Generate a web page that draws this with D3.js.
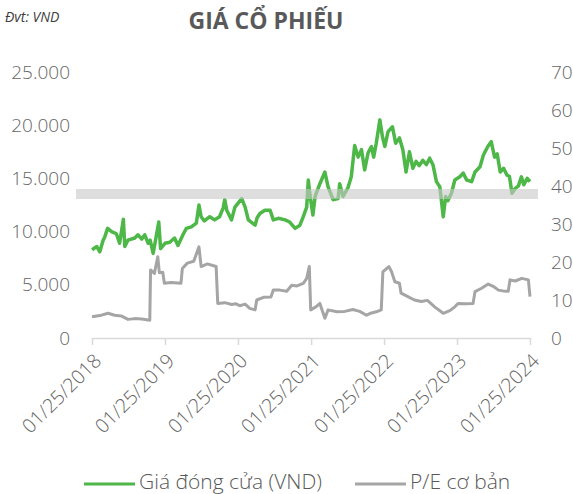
<!DOCTYPE html>
<html>
<head>
    <meta charset="utf-8">
    <title>Giá cổ phiếu</title>
    <script src="https://d3js.org/d3.v7.min.js"></script>
    <style>
        body { margin:0; background:white; }
        text { font-family:"Open Sans", sans-serif; fill:#666; }
        .tick-label { font-size:19px; font-weight:300; }
        .title { font-size:23px; font-weight:bold; fill:#595959; }
        .unit { font-size:14px; font-style:italic; fill:#404040; }
        .legend { font-size:21px; font-weight:300; fill:#595959; }
    </style>
</head>
<body>
<script>
// closing price (VND)
var priceDates = ["2018-01-25","2018-02-18","2018-03-05","2018-03-22","2018-03-30","2018-04-13","2018-05-03","2018-05-27","2018-06-12","2018-07-01","2018-07-08","2018-07-24","2018-08-27","2018-09-12","2018-10-01","2018-10-16","2018-11-02","2018-11-12","2018-11-27","2018-12-07","2018-12-25","2019-01-03","2019-01-25","2019-02-18","2019-03-14","2019-03-31","2019-04-25","2019-05-12","2019-06-06","2019-07-01","2019-07-14","2019-07-25","2019-08-10","2019-09-06","2019-09-30","2019-10-25","2019-11-12","2019-11-20","2019-11-30","2019-12-24","2020-01-10","2020-02-13","2020-03-01","2020-03-17","2020-04-20","2020-04-30","2020-05-14","2020-06-08","2020-07-04","2020-07-20","2020-08-14","2020-09-17","2020-10-10","2020-11-06","2020-11-30","2020-12-17","2021-01-03","2021-01-11","2021-01-19","2021-02-03","2021-02-14","2021-03-10","2021-04-04","2021-04-20","2021-05-15","2021-06-09","2021-06-17","2021-07-04","2021-07-28","2021-08-14","2021-08-31","2021-09-17","2021-10-04","2021-10-20","2021-11-06","2021-11-23","2021-12-04","2021-12-17","2022-01-04","2022-01-17","2022-01-29","2022-02-14","2022-03-08","2022-03-24","2022-04-12","2022-04-29","2022-05-15","2022-06-01","2022-06-18","2022-07-04","2022-07-20","2022-08-07","2022-08-25","2022-09-10","2022-09-27","2022-10-14","2022-10-31","2022-11-17","2022-11-29","2022-12-10","2022-12-28","2023-01-14","2023-02-08","2023-02-25","2023-03-14","2023-04-08","2023-04-25","2023-05-20","2023-06-06","2023-06-28","2023-07-15","2023-08-01","2023-08-14","2023-08-29","2023-09-15","2023-10-02","2023-10-14","2023-10-27","2023-11-12","2023-11-28","2023-12-13","2023-12-25","2024-01-11","2024-01-25"];
var priceValues = [8300,8600,8100,9200,9500,10300,10000,9800,8900,11150,8600,9200,9400,9700,9300,9700,8900,9200,7960,9000,10900,8400,8900,9000,9400,8700,9700,10300,10450,10800,12500,11400,11000,11400,11100,11400,12200,13000,12000,11100,12300,13100,12300,11100,10600,11300,11700,12000,12000,11100,11250,11100,10900,10300,10600,11400,12300,14850,13500,11550,13300,14500,15600,14200,13000,13100,14500,13300,14100,15150,18100,17000,17700,15800,17400,18000,17000,18300,20500,18900,18000,19400,19850,18300,18800,17700,15600,17500,15950,16600,16200,16700,16300,16900,16250,14700,14200,11400,13300,12900,13600,14850,15150,15500,14850,14700,15600,16100,17200,18000,18450,17000,17300,15600,15950,15300,15200,13600,14050,14300,15150,14400,15000,14700];

// basic P/E
var peDates = ["2018-01-25","2018-03-05","2018-04-15","2018-05-18","2018-06-20","2018-07-24","2018-08-27","2018-10-01","2018-11-10","2018-11-14","2018-12-03","2018-12-20","2018-12-28","2019-01-14","2019-01-22","2019-02-25","2019-04-15","2019-04-22","2019-05-17","2019-06-18","2019-07-14","2019-07-25","2019-08-25","2019-10-08","2019-10-16","2019-11-20","2019-12-25","2020-01-15","2020-02-03","2020-03-01","2020-03-24","2020-04-20","2020-04-28","2020-06-01","2020-07-08","2020-07-20","2020-08-22","2020-09-25","2020-10-20","2020-11-15","2020-12-17","2021-01-03","2021-01-16","2021-01-23","2021-02-18","2021-03-10","2021-03-20","2021-04-04","2021-04-20","2021-06-03","2021-07-12","2021-08-22","2021-09-25","2021-10-29","2021-11-23","2021-12-17","2022-01-11","2022-01-19","2022-02-18","2022-03-03","2022-03-20","2022-04-12","2022-04-20","2022-05-24","2022-06-26","2022-07-30","2022-08-30","2022-10-05","2022-11-17","2022-12-20","2023-01-14","2023-01-30","2023-03-10","2023-04-15","2023-04-25","2023-05-28","2023-06-30","2023-07-25","2023-08-20","2023-09-12","2023-10-08","2023-10-17","2023-11-12","2023-12-15","2024-01-17","2024-01-25"];
var peValues = [5.6,5.9,6.5,6.0,5.8,4.9,5.1,5.0,4.7,17.9,17.0,21.4,17.2,17.3,14.4,14.6,14.4,18.3,19.7,20.2,24.0,18.8,19.5,18.8,9.1,9.3,8.8,9.0,8.5,8.9,7.8,7.4,10.0,10.7,10.8,12.6,12.6,12.3,13.9,13.7,14.4,15.7,18.8,7.4,8.2,9.1,7.5,5.2,7.4,6.9,7.0,7.5,7.0,6.0,6.6,6.9,7.4,17.4,18.8,17.5,14.8,14.4,11.8,10.9,10.0,9.6,9.9,8.2,6.5,7.2,8.2,9.1,9.0,9.1,12.2,13.1,14.2,13.6,12.6,12.4,12.3,15.3,15.0,15.7,15.3,10.9];

var xTickDates = ["2018-01-25","2019-01-25","2020-01-25","2021-01-25","2022-01-25","2023-01-25","2024-01-25"];
var leftTicks = [0,5000,10000,15000,20000,25000];
var rightTicks = [0,10,20,30,40,50,60,70];
var seriesNames = ["Giá đóng cửa (VND)", "P/E cơ bản"];

var parse = d3.timeParse("%Y-%m-%d");
var price = priceDates.map(function(d,i){ return {date:parse(d), v:priceValues[i]}; });
var pe = peDates.map(function(d,i){ return {date:parse(d), v:peValues[i]}; });

var svg = d3.select("body").append("svg").attr("width",573).attr("height",494);

var x = d3.scaleTime().domain([parse(xTickDates[0]), parse(xTickDates[6])]).range([92,530]);
var yL = d3.scaleLinear().domain([0,25000]).range([338,72]);
var yR = d3.scaleLinear().domain([0,70]).range([338,72]);

// title
svg.append("text").attr("class","unit").attr("x",5).attr("y",22).text("Đvt: VND");
svg.append("text").attr("class","title").attr("x",266).attr("y",29)
    .attr("text-anchor","middle").text("GIÁ CỔ PHIẾU");

// left axis labels
svg.append("g").selectAll("text").data(leftTicks).enter().append("text")
    .attr("class","tick-label")
    .attr("x",70).attr("y",function(d){return yL(d);})
    .attr("dy","0.35em").attr("text-anchor","end")
    .text(function(d){return d3.format(",")(d).replace(/,/g,".");});

// right axis labels
svg.append("g").selectAll("text").data(rightTicks).enter().append("text")
    .attr("class","tick-label")
    .attr("x",551).attr("y",function(d){return yR(d);})
    .attr("dy","0.35em").attr("text-anchor","start")
    .text(function(d){return d;});

// x axis
var xAxis = svg.append("g").attr("transform","translate(0,338)")
    .call(d3.axisBottom(x).tickValues(xTickDates.map(parse)).tickSize(7).tickSizeOuter(0)
        .tickFormat(d3.timeFormat("%m/%d/%Y")));
xAxis.select(".domain").attr("stroke","#d9d9d9").attr("stroke-width",1.5);
xAxis.selectAll(".tick line").attr("stroke","#d9d9d9").attr("stroke-width",1.5);
xAxis.selectAll(".tick text")
    .attr("class","tick-label")
    .attr("fill","#666")
    .style("font-size","19.5px")
    .attr("text-anchor","end")
    .attr("dx","0").attr("dy","0")
    .attr("transform","translate(3,17) rotate(-45)");

// lines
var lineL = d3.line().x(function(d){return x(d.date);}).y(function(d){return yL(d.v);});
var lineR = d3.line().x(function(d){return x(d.date);}).y(function(d){return yR(d.v);});

svg.append("path").datum(pe).attr("d",lineR)
    .attr("fill","none").attr("stroke","#a5a5a5").attr("stroke-width",3).attr("stroke-linejoin","round");
svg.append("path").datum(price).attr("d",lineL)
    .attr("fill","none").attr("stroke","#4db748").attr("stroke-width",3.5).attr("stroke-linejoin","round");

// grey band over the plot
svg.append("rect").attr("x",76).attr("y",189).attr("width",462).attr("height",10)
    .attr("fill","rgb(200,200,200)").attr("fill-opacity",0.6);

// legend
var legend = svg.append("g").selectAll("g").data(seriesNames).enter().append("g")
    .attr("transform",function(d,i){return "translate(" + [84,355][i] + ",482)";});
legend.append("line").attr("x1",0).attr("x2",51).attr("y1",2).attr("y2",2)
    .attr("stroke",function(d,i){return ["#4db748","#a5a5a5"][i];}).attr("stroke-width",3);
legend.append("text").attr("class","legend").attr("x",55).attr("y",0).attr("dy","0.35em")
    .text(function(d){return d;});
</script>
</body>
</html>
